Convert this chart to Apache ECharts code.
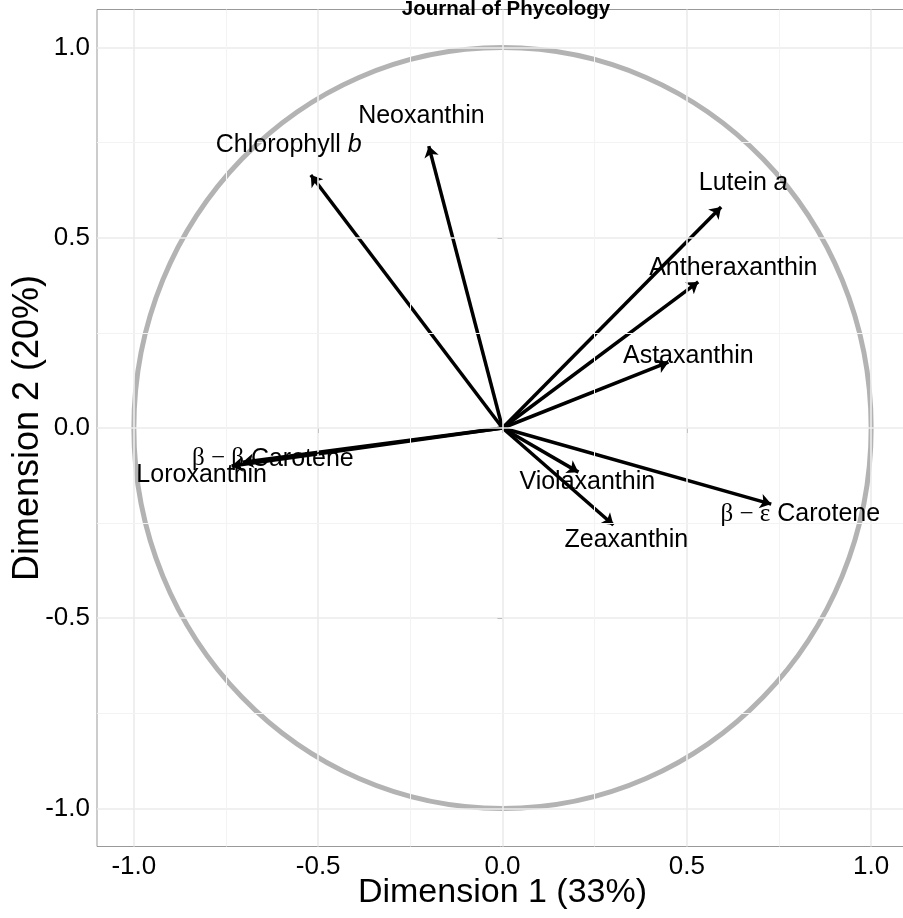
<!DOCTYPE html>
<html>
<head>
<meta charset="utf-8">
<script src="https://cdn.jsdelivr.net/npm/echarts@6/dist/echarts.min.js"></script>
<style>html,body{margin:0;padding:0;background:#fff;}#c{width:903px;height:918px;}</style>
</head>
<body>
<div id="c"></div>
<script>
// Variable names and arrow tips (Dimension 1, Dimension 2)
const variables = ['Chlorophyll b','Neoxanthin','Lutein a','Antheraxanthin','Astaxanthin','β-ε Carotene','Violaxanthin','Zeaxanthin','β-β Carotene','Loroxanthin'];
const dim1 = [-0.520, -0.200, 0.593, 0.531, 0.450, 0.729, 0.206, 0.301, -0.705, -0.735];
const dim2 = [ 0.665,  0.741, 0.581, 0.384, 0.173, -0.200, -0.116, -0.255, -0.090, -0.100];
// Label positions
const labX = [-0.580, -0.220, 0.653, 0.626, 0.504, 0.808, 0.230, 0.336, -0.623, -0.816];
const labY = [ 0.744,  0.820, 0.644, 0.420, 0.189, -0.226, -0.142, -0.294, -0.081, -0.124];
const labelText = ['Chlorophyll {i|b}','Neoxanthin','Lutein {i|a}','Antheraxanthin','Astaxanthin','{s|β − ε} Carotene','Violaxanthin','Zeaxanthin','{s|β − β} Carotene','Loroxanthin'];
// Axis ticks
const majorTicks = [-1.0, -0.5, 0.0, 0.5, 1.0];
const minorTicks = [-0.75, -0.25, 0.25, 0.75];
const tickLabels = ['-1.0','-0.5','0.0','0.5','1.0'];

const FONT = 'Liberation Sans, Arial, sans-serif';
const chart = echarts.init(document.getElementById('c'), null, {renderer:'canvas'});

const gridLines = [];
majorTicks.forEach(v => { gridLines.push({xAxis: v, lineStyle:{color:'#ebebeb', width:1.6, type:'solid'}}); gridLines.push({yAxis: v, lineStyle:{color:'#ebebeb', width:1.6, type:'solid'}}); });
minorTicks.forEach(v => { gridLines.push({xAxis: v, lineStyle:{color:'#f3f3f3', width:1, type:'solid'}}); gridLines.push({yAxis: v, lineStyle:{color:'#f3f3f3', width:1, type:'solid'}}); });

const fmtLabel = v => { const i = majorTicks.findIndex(t => Math.abs(t - v) < 1e-9); return i >= 0 ? tickLabels[i] : ''; };

const option = {
  animation: false,
  backgroundColor: '#fff',
  title: {
    text: 'Journal of Phycology', left: 501, top: -6, textAlign: 'center',
    textStyle: {fontFamily: FONT, fontSize: 20.5, fontWeight: 'bold', color: '#000'}
  },
  grid: {left: 97, right: -5, top: 9.5, bottom: 71.5, show: true, borderColor: '#999', borderWidth: 1, backgroundColor: 'transparent', containLabel: false, outerBoundsMode: 'none'},
  xAxis: {
    type: 'value', min: -1.1, max: 1.1,
    name: 'Dimension 1 (33%)', nameLocation: 'middle', nameGap: 29, nameMoveOverlap: false,
    nameTextStyle: {fontFamily: FONT, fontSize: 34, color: '#000'},
    axisLine: {show: false},
    axisTick: {show: true, length: 5, lineStyle: {color: '#333', width: 1}, customValues: majorTicks},
    axisLabel: {fontFamily: FONT, fontSize: 26, color: '#000', margin: 7, customValues: majorTicks, formatter: fmtLabel},
    splitLine: {show: false}
  },
  yAxis: {
    type: 'value', min: -1.1, max: 1.1,
    name: 'Dimension 2 (20%)', nameLocation: 'middle', nameGap: 51, nameMoveOverlap: false,
    nameTextStyle: {fontFamily: FONT, fontSize: 36, color: '#000'},
    axisLine: {show: false},
    axisTick: {show: true, length: 5, lineStyle: {color: '#333', width: 1}, customValues: majorTicks},
    axisLabel: {fontFamily: FONT, fontSize: 26, color: '#000', margin: 7, customValues: majorTicks, formatter: fmtLabel},
    splitLine: {show: false}
  },
  series: [
    {
      type: 'line', data: [[0, 0]], symbol: 'none', silent: true, z: 0,
      markLine: {silent: true, symbol: 'none', label: {show: false}, animation: false, data: gridLines}
    },
    {
      type: 'custom', coordinateSystem: 'cartesian2d', clip: false, silent: true, z: 1,
      data: [[0, 0]], encode: {x: 0, y: 1},
      renderItem: function (params, api) {
        const c = api.coord([0, 0]);
        const s = api.size([1, 1]);
        return {type: 'ellipse', shape: {cx: c[0], cy: c[1], rx: s[0], ry: s[1]}, style: {fill: null, stroke: '#b3b3b3', lineWidth: 5}};
      }
    },
    {
      type: 'lines', coordinateSystem: 'cartesian2d', z: 3, silent: true,
      symbol: ['none', 'arrow'], symbolSize: 11,
      lineStyle: {color: '#000', width: 3.5, opacity: 1, curveness: 0},
      data: dim1.map((x, i) => ({coords: [[0, 0], [x, dim2[i]]]}))
    },
    {
      type: 'custom', coordinateSystem: 'cartesian2d', clip: false, silent: true, z: 5,
      data: labX.map((x, i) => [x, labY[i], i]), encode: {x: 0, y: 1},
      renderItem: function (params, api) {
        const p = api.coord([api.value(0), api.value(1)]);
        const idx = api.value(2);
        return {
          type: 'text', x: p[0], y: p[1],
          style: {
            text: labelText[idx], align: 'center', verticalAlign: 'middle',
            fill: '#000', fontFamily: FONT, fontSize: 25,
            rich: {
              i: {fontFamily: FONT, fontSize: 25, fontStyle: 'italic', fill: '#000'},
              s: {fontFamily: 'Liberation Serif, Times New Roman, serif', fontSize: 25, fill: '#000'}
            }
          }
        };
      }
    }
  ]
};
chart.setOption(option);
</script>
</body>
</html>
